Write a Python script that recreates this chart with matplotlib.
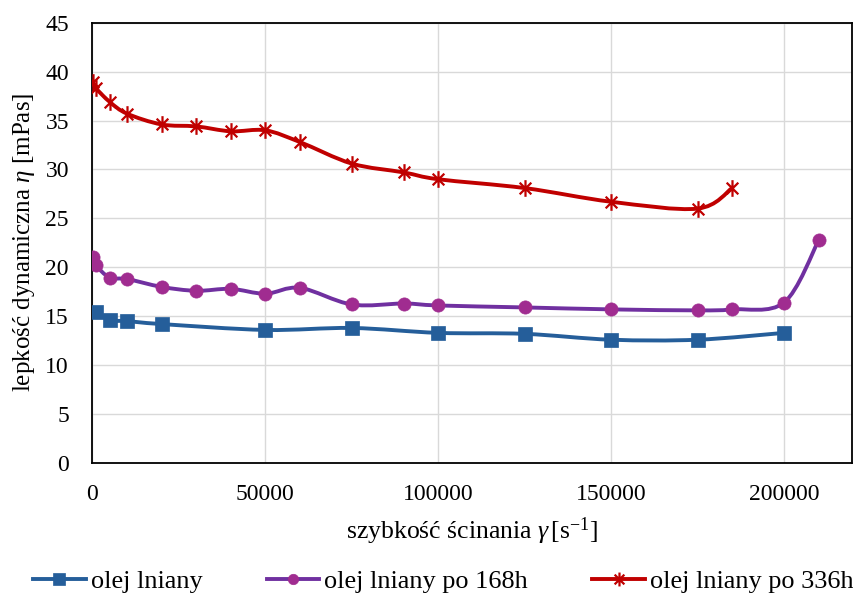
import numpy as np
import matplotlib
matplotlib.use("Agg")
import matplotlib.pyplot as plt
from matplotlib.path import Path
from matplotlib.patches import PathPatch
from matplotlib.lines import Line2D

plt.rcParams["font.family"] = ["Liberation Serif", "DejaVu Serif"]
plt.rcParams["mathtext.fontset"] = "custom"
plt.rcParams["mathtext.rm"] = "Liberation Serif"
plt.rcParams["mathtext.it"] = "Liberation Serif:italic"
plt.rcParams["font.size"] = 18

# shear rate [1/s] and dynamic viscosity [mPas]
x_fresh = [1000, 5000, 10000, 20000, 50000, 75000, 100000, 125000, 150000, 175000, 200000]
y_fresh = [15.4, 14.6, 14.5, 14.2, 13.6, 13.8, 13.3, 13.2, 12.6, 12.6, 13.3]

x_168 = [200, 1000, 5000, 10000, 20000, 30000, 40000, 50000, 60000, 75000, 90000,
         100000, 125000, 150000, 175000, 185000, 200000, 210000]
y_168 = [21.05, 20.2, 18.95, 18.8, 18.0, 17.6, 17.8, 17.3, 17.9, 16.2, 16.3,
         16.1, 15.9, 15.7, 15.6, 15.7, 16.4, 22.75]

x_336 = [200, 1000, 5000, 10000, 20000, 30000, 40000, 50000, 60000, 75000, 90000,
         100000, 125000, 150000, 175000, 185000]
y_336 = [38.9, 38.3, 36.9, 35.7, 34.6, 34.4, 33.9, 34.0, 32.8, 30.6, 29.7,
         29.0, 28.1, 26.7, 26.0, 28.1]

labels = ["olej lniany", "olej lniany po 168h", "olej lniany po 336h"]
line_colors = ["#255E9A", "#7030A0", "#C00000"]
marker_colors = ["#255E9A", "#A02C90", "#C00000"]

# six-armed asterisk (X with a vertical bar)
star = Path([(-0.7, -0.7), (0.7, 0.7), (-0.7, 0.7), (0.7, -0.7), (0, -1), (0, 1)],
            [Path.MOVETO, Path.LINETO, Path.MOVETO, Path.LINETO, Path.MOVETO, Path.LINETO])
markers = ["s", "o", star]
msizes = [10.5, 9.5, 12]


def smooth_path(x, y):
    # Catmull-Rom segments written as cubic Bezier curves
    p = np.column_stack([x, y]).astype(float)
    verts = [p[0]]
    codes = [Path.MOVETO]
    n = len(p)
    for i in range(n - 1):
        p0 = p[i - 1] if i > 0 else p[i]
        p3 = p[i + 2] if i + 2 < n else p[i + 1]
        c1 = p[i] + (p[i + 1] - p0) / 6.0
        c2 = p[i + 1] - (p3 - p[i]) / 6.0
        verts += [c1, c2, p[i + 1]]
        codes += [Path.CURVE4] * 3
    return Path(verts, codes)


fig = plt.figure(figsize=(8.54, 5.96), dpi=100)
ax = fig.add_axes([92.5 / 854, 1 - 463 / 596, 760 / 854, 440.3 / 596])

series = [(x_fresh, y_fresh), (x_168, y_168), (x_336, y_336)]
handles = []
for k, (xs, ys) in enumerate(series):
    ax.add_patch(PathPatch(smooth_path(xs, ys), fill=False, ec=line_colors[k],
                           lw=2.8, zorder=3 + k, capstyle="round"))
    ax.plot(xs, ys, ls="none", marker=markers[k], ms=msizes[k],
            mfc=marker_colors[k] if k < 2 else "none", mec=marker_colors[k],
            mew=1.6 if k == 2 else 0.5, zorder=3.5 + k)
    handles.append(Line2D([], [], color=line_colors[k], lw=2.8, marker=markers[k],
                          ms=msizes[k] - 2, mfc=marker_colors[k] if k < 2 else "none",
                          mec=marker_colors[k], mew=1.6 if k == 2 else 0.5))

ax.set_xlim(0, 219800)
ax.set_ylim(0, 45)
ax.set_xticks(np.arange(0, 200001, 50000))
ax.set_yticks(np.arange(0, 46, 5))
ax.grid(True, color="#D9D9D9", lw=1.0)
ax.set_axisbelow(True)
ax.tick_params(axis="both", length=0, labelsize=17)
ax.tick_params(axis="y", pad=17)
ax.tick_params(axis="x", pad=15)
for s in ax.spines.values():
    s.set_color("black")
    s.set_linewidth(1.3)

ax.set_xlabel(r"szybkość ścinania $\gamma\,$[s$^{\mathregular{-1}}$]", fontsize=18.5, labelpad=8)
ax.set_ylabel(r"lepkość dynamiczna $\eta$ [mPas]", fontsize=18, labelpad=6)

fig.legend(handles, labels, loc="center left", bbox_to_anchor=(33 / 854, 1 - 581 / 596),
           ncol=3, frameon=False, handlelength=2.0, handletextpad=0.2,
           columnspacing=2.45, borderpad=0, borderaxespad=0, fontsize=18.9)

fig.savefig("out.png", dpi=100)
